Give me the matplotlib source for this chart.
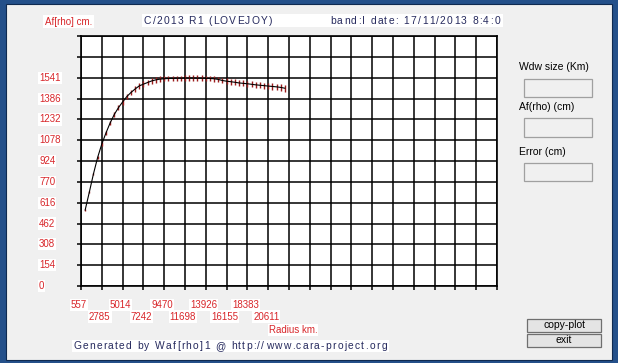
import numpy as np
import matplotlib
matplotlib.use("Agg")
import matplotlib.pyplot as plt
from matplotlib.patches import Rectangle
from matplotlib.transforms import blended_transform_factory, offset_copy
from matplotlib.font_manager import findfont, FontProperties
from matplotlib.ft2font import FT2Font

W, H = 618, 363

# data
radius_km = [1003, 1448, 1894, 2339, 2785, 3231, 3676, 4122, 4567, 5013,
             5459, 5904, 6350, 6795, 7241, 7687, 8132, 8578, 9023, 9469,
             9915, 10360, 10806, 11251, 11697, 12143, 12588, 13034, 13479, 13925,
             14371, 14816, 15262, 15707, 16153, 16599, 17044, 17490, 17935, 18381,
             18827, 19272, 19718, 20163, 20609, 21055, 21500, 21946, 22391]
af_cm = [562, 694, 830, 951, 1050, 1132, 1206, 1269, 1319, 1361,
         1401, 1431, 1457, 1480, 1493, 1505, 1517, 1525, 1530, 1533,
         1535, 1536, 1537, 1537, 1538, 1538, 1538, 1537, 1537, 1536,
         1535, 1533, 1528, 1520, 1515, 1511, 1507, 1502, 1499, 1496,
         1492, 1488, 1485, 1482, 1479, 1476, 1473, 1469, 1463]
err_cm = [4, 6, 8, 10, 12, 14, 16, 18, 19, 20,
          20, 20, 20, 20, 20, 20, 20, 20, 20, 20,
          20, 20, 20, 20, 20, 20, 20, 21, 21, 21,
          21, 21, 21, 21, 22, 22, 22, 22, 22, 22,
          23, 23, 23, 23, 23, 24, 24, 24, 27]

x_ticks = [557, 2785, 5014, 7242, 9470, 11698, 13926, 16155, 18383, 20611]
y_ticks = [0, 154, 308, 462, 616, 770, 924, 1078, 1232, 1386, 1541]
col_step = 2228.2
row_step = 154.1

red = '#d8262a'
navy = '#262a5e'
FONT = 'Liberation Sans'
ft = FT2Font(findfont(FontProperties(family=FONT)))


def fx(x):
    return x / W


def fy(y):
    return 1 - y / H


def box(x0, y0, x1, y1, fc='white', ec='none', lw=0.8):
    fig.patches.append(Rectangle((fx(x0), fy(y1)), fx(x1) - fx(x0), fy(y0) - fy(y1),
                                 transform=fig.transFigure, facecolor=fc,
                                 edgecolor=ec, lw=lw, zorder=1))


def spaced(x0, x1, y, s, size, **kw):
    # letter-spaced text stretched between x0 and x1 (pixels)
    ft.set_size(size, 100)
    adv = [ft.load_char(ord(c)).linearHoriAdvance / 65536 for c in s]
    extra = (x1 - x0 - sum(adv)) / (len(s) - 1)
    x = x0
    for c, a in zip(s, adv):
        if c != ' ':
            fig.text(fx(x), fy(y), c, ha='left', va='center', fontsize=size,
                     family=FONT, zorder=3, **kw)
        x += a + extra


fig = plt.figure(figsize=(W / 100, H / 100), dpi=100)
fig.patch.set_facecolor('#24508a')

# window body
box(6, 4, 612, 360, fc='#f0f0f0', ec='#0f2a50', lw=0.8)

ax = fig.add_axes([fx(81), fy(286), fx(497) - fx(81), fy(36) - fy(286)])
ax.set_zorder(2)
ax.set_facecolor('white')
ax.set_xlim(557, 557 + 20 * col_step)
ax.set_ylim(0, 12 * row_step)
ax.set_xticks([557 + i * col_step for i in range(21)])
ax.set_yticks([i * row_step for i in range(13)])
ax.tick_params(direction='out', length=3, width=1.1, color='black',
               labelbottom=False, labelleft=False)
ax.grid(True, color='black', lw=1.1)
ax.set_axisbelow(True)
for sp in ax.spines.values():
    sp.set_linewidth(1.2)
    sp.set_color('black')

ax.errorbar(radius_km, af_cm, yerr=err_cm, fmt='-', color='black', lw=0.8,
            ecolor='#9c1c1c', elinewidth=1.0, capsize=0, zorder=3)

# y tick labels (left aligned in the dialog)
ty = blended_transform_factory(fig.transFigure, ax.transData)
for v in y_ticks:
    ax.text(fx(39), v, str(v), transform=ty, ha='left', va='center', fontsize=7,
            family=FONT, color=red,
            bbox=dict(facecolor='white', edgecolor='none', pad=0.8), clip_on=False)

# x tick labels, two staggered rows
tx = offset_copy(blended_transform_factory(ax.transData, fig.transFigure),
                 fig=fig, x=-2, y=0, units='dots')
for i, v in enumerate(x_ticks):
    yy = 305 if i % 2 == 0 else 316.5
    ax.text(v, fy(yy), str(v), transform=tx, ha='center', va='center', fontsize=7,
            family=FONT, color=red,
            bbox=dict(facecolor='white', edgecolor='none', pad=0.8), clip_on=False)

fig.text(fx(293), fy(330), 'Radius km.', ha='center', va='center', fontsize=7,
         family=FONT, color=red,
         bbox=dict(facecolor='white', edgecolor='none', pad=0.8))
fig.text(fx(68.5), fy(21.7), 'Af[rho] cm.', ha='center', va='center', fontsize=7,
         family=FONT, color=red,
         bbox=dict(facecolor='white', edgecolor='none', pad=1.2))

# header strip
box(142, 13.5, 503, 27)
spaced(144, 272, 20.5, 'C/2013 R1 (LOVEJOY)', 7.4, color=navy)
spaced(330, 500, 20.5, 'band:I date: 17/11/2013 8:4:0', 7.4, color=navy)

# footer
box(72, 340, 389, 352)
spaced(73, 387, 346, 'Generated by Waf[rho]1 @ http://www.cara-project.org', 7.4,
       color=navy)

# side panel
side = [('Wdw size (Km)', 67, 78.5, 96.5),
        ('Af(rho) (cm)', 107, 117.5, 136.5),
        ('Error (cm)', 152, 162.5, 180.5)]
for label, ty_, b0, b1 in side:
    fig.text(fx(519), fy(ty_), label, ha='left', va='center', fontsize=7.5,
             family=FONT, color='black')
    box(524, b0, 592, b1, fc='#f0f0f0', ec='#a0a0a0', lw=0.9)

# buttons
for label, b0, b1 in [('copy-plot', 319, 332), ('exit', 333.5, 346.5)]:
    box(527, b0, 601, b1, fc='#e4e4e4', ec='#6f6f6f', lw=0.9)
    fig.text(fx(564), fy((b0 + b1) / 2), label, ha='center', va='center',
             fontsize=7.5, family=FONT, color='black')

fig.savefig('out.png', dpi=100, facecolor=fig.get_facecolor())
